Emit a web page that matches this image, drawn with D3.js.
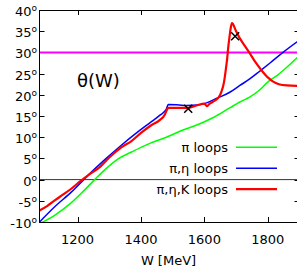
<!DOCTYPE html>
<html>
<head>
<meta charset="utf-8">
<script src="https://cdn.jsdelivr.net/npm/d3@7"></script>
<style>
  body { margin: 0; background: #fff; }
  text { font-family: "DejaVu Sans", sans-serif; fill: #000; }
</style>
</head>
<body>
<script>
// chart values
var xTicks = [1200, 1400, 1600, 1800];
var yTicks = [-10, -5, 0, 5, 10, 15, 20, 25, 30, 35, 40];

var wGreen  = [1080, 1130, 1175, 1215, 1254, 1290, 1328, 1370, 1400, 1430, 1480, 1523, 1580, 1630, 1680, 1712, 1744, 1775, 1800, 1830, 1860, 1900];
var thGreen = [-10.4, -8.3, -5.8, -3.0, 0, 2.6, 4.9, 6.5, 7.6, 8.6, 10.0, 11.4, 13.0, 14.7, 16.9, 18.3, 19.5, 21.2, 23.0, 24.6, 26.5, 29.3];

var wBlue  = [1080, 1128, 1181, 1233, 1286, 1338, 1391, 1430, 1460, 1480, 1486, 1520, 1544, 1580, 1607, 1640, 1680, 1712, 1744, 1775, 1807, 1848, 1900];
var thBlue = [-10.0, -6.4, -2.9, 1.0, 4.7, 8.1, 11.3, 13.5, 15.2, 16.6, 17.7, 17.6, 17.5, 17.6, 18.1, 19.2, 20.6, 22.2, 23.8, 25.6, 27.5, 30.0, 32.9];

var wRed  = [1080, 1105, 1128, 1155, 1181, 1207, 1233, 1271, 1300, 1338, 1370, 1400, 1430, 1460, 1475, 1482, 1486, 1520, 1549, 1580, 1600, 1608, 1615, 1628, 1640, 1649, 1655, 1660, 1664, 1668, 1672, 1675, 1679, 1683, 1687, 1700, 1712, 1728, 1744, 1760, 1780, 1800, 1817, 1835, 1860, 1900];
var thRed = [-7.3, -6.2, -4.9, -3.5, -2.1, -0.5, 1.0, 3.0, 5.2, 7.6, 9.1, 11.0, 12.7, 14.1, 15.3, 16.5, 16.9, 16.9, 16.9, 17.6, 17.9, 17.3, 17.8, 18.4, 19.0, 19.9, 21.0, 22.3, 24.0, 26.2, 28.6, 31.0, 33.5, 35.7, 36.9, 35.0, 33.3, 31.5, 29.7, 27.8, 25.8, 24.1, 23.1, 22.5, 22.2, 22.1];

var refLine = 30;
var markW  = [1549, 1697];
var markTh = [16.7, 33.8];

var seriesNames  = ["π loops", "π,η loops", "π,η,K loops"];
var seriesColors = ["#00ff00", "#0000ff", "#ff0000"];
var seriesWidths = [1.5, 1.5, 2.2];

var width = 297, height = 267;
var margin = { top: 10, left: 39.5, bottom: 45 };

var x = d3.scaleLinear().domain([1080, 1900]).range([margin.left, 299.5]);
var y = d3.scaleLinear().domain([-10, 40]).range([height - margin.bottom, margin.top]);

var svg = d3.select("body").append("svg")
	.attr("width", width)
	.attr("height", height);

svg.append("defs").append("clipPath")
	.attr("id", "plot")
	.append("rect")
	.attr("x", x.range()[0]).attr("y", y.range()[1])
	.attr("width", x.range()[1] - x.range()[0])
	.attr("height", y.range()[0] - y.range()[1]);

// zero line
svg.append("line")
	.attr("x1", x.range()[0]).attr("x2", x.range()[1])
	.attr("y1", y(0)).attr("y2", y(0))
	.attr("stroke", "#333").attr("stroke-width", 1);

// inward ticks on all four sides
var tickLen = 5;
svg.selectAll(".xtick")
	.data(xTicks)
	.enter().append("path")
	.attr("d", function (d) {
		var px = Math.round(x(d)) + 0.5;
		return "M" + px + "," + y.range()[0] + "v" + (-tickLen) +
			"M" + px + "," + y.range()[1] + "v" + tickLen;
	})
	.attr("stroke", "#000");

svg.selectAll(".ytick")
	.data(yTicks)
	.enter().append("path")
	.attr("d", function (d) {
		var py = Math.round(y(d)) + 0.5;
		return "M" + x.range()[0] + "," + py + "h" + tickLen +
			"M" + x.range()[1] + "," + py + "h" + (-tickLen);
	})
	.attr("stroke", "#000");

// tick labels
svg.selectAll(".xlab")
	.data(xTicks)
	.enter().append("text")
	.attr("x", function (d) { return x(d); })
	.attr("y", 243.5)
	.attr("text-anchor", "middle")
	.attr("font-size", 13)
	.text(function (d) { return d; });

var ylab = svg.selectAll(".ylab")
	.data(yTicks)
	.enter().append("text")
	.attr("x", 37)
	.attr("y", function (d) { return y(d) + 6; })
	.attr("text-anchor", "end")
	.attr("font-size", 13);
ylab.append("tspan").text(function (d) { return d; });
ylab.append("tspan")
	.attr("font-size", 9)
	.attr("dy", -5)
	.text("o");

// curves
var line = d3.line()
	.curve(d3.curveMonotoneX)
	.x(function (d) { return x(d[0]); })
	.y(function (d) { return y(d[1]); });

var series = [
	d3.zip(wGreen, thGreen),
	d3.zip(wBlue, thBlue),
	d3.zip(wRed, thRed)
];

var curves = svg.append("g").attr("clip-path", "url(#plot)");

curves.append("line")
	.attr("x1", x.range()[0]).attr("x2", x.range()[1])
	.attr("y1", y(refLine)).attr("y2", y(refLine))
	.attr("stroke", "#ff00ff").attr("stroke-width", 2);

curves.selectAll(".curve")
	.data(series)
	.enter().append("path")
	.attr("fill", "none")
	.attr("stroke", function (d, i) { return seriesColors[i]; })
	.attr("stroke-width", function (d, i) { return seriesWidths[i]; })
	.attr("stroke-linejoin", "round")
	.attr("d", line);

// cross markers
svg.selectAll(".mark")
	.data(d3.zip(markW, markTh))
	.enter().append("path")
	.attr("d", function (d) {
		var px = x(d[0]), py = y(d[1]), s = 4;
		return "M" + (px - s) + "," + (py - s) + "L" + (px + s) + "," + (py + s) +
			"M" + (px - s) + "," + (py + s) + "L" + (px + s) + "," + (py - s);
	})
	.attr("stroke", "#000")
	.attr("stroke-width", 1.5);

// frame
svg.append("rect")
	.attr("x", x.range()[0]).attr("y", y.range()[1] + 0.5)
	.attr("width", x.range()[1] - x.range()[0])
	.attr("height", y.range()[0] - y.range()[1])
	.attr("fill", "none")
	.attr("stroke", "#000");

// legend
var legend = svg.selectAll(".legend")
	.data(seriesNames)
	.enter().append("g")
	.attr("transform", function (d, i) { return "translate(0," + (147.3 + i * 20.9) + ")"; });

legend.append("text")
	.attr("x", 228)
	.attr("y", 5)
	.attr("text-anchor", "end")
	.attr("font-size", 13)
	.text(function (d) { return d; });

legend.append("line")
	.attr("x1", 236).attr("x2", 277)
	.attr("stroke", function (d, i) { return seriesColors[i]; })
	.attr("stroke-width", function (d, i) { return seriesWidths[i]; });

// titles
svg.append("text")
	.attr("x", 77)
	.attr("y", 87)
	.attr("font-size", 18)
	.text("θ(W)");

svg.append("text")
	.attr("x", 168.5)
	.attr("y", 264.5)
	.attr("text-anchor", "middle")
	.attr("font-size", 13)
	.text("W [MeV]");
</script>
</body>
</html>
